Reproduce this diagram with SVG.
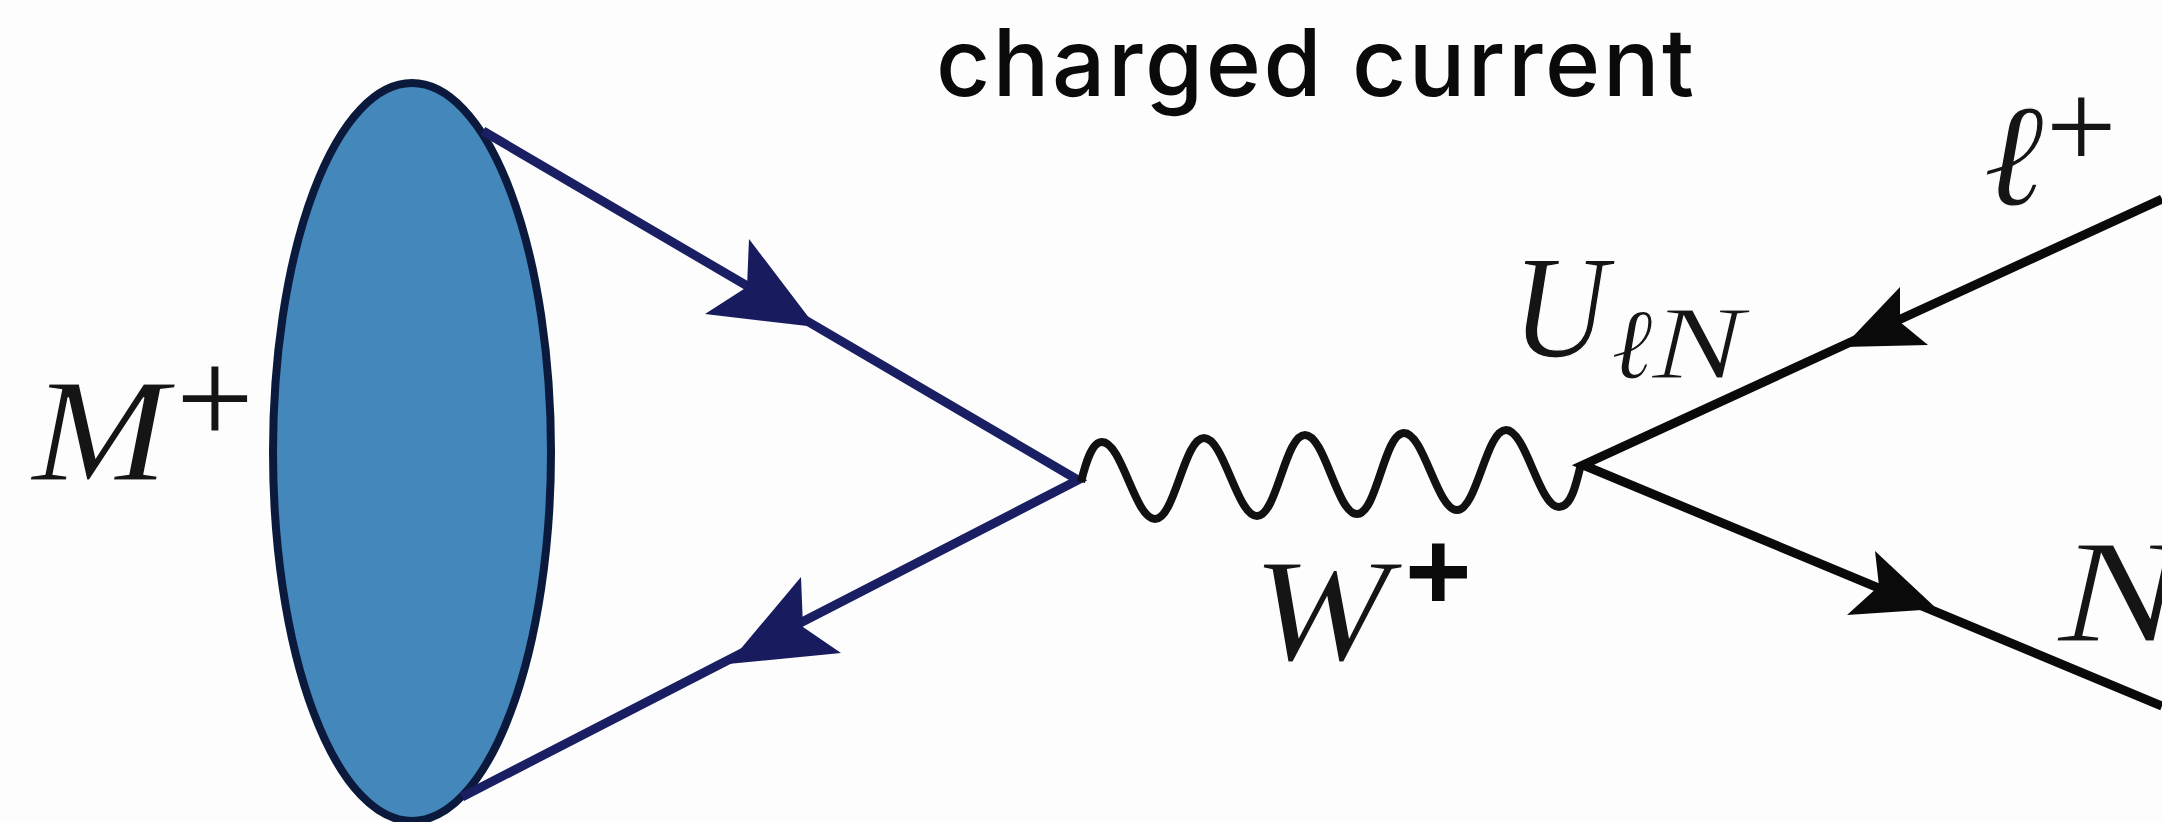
<svg xmlns="http://www.w3.org/2000/svg" width="2162" height="822" viewBox="0 0 2162 822">
<style>
.m{font-family:"Liberation Serif","DejaVu Serif",serif;font-style:italic;fill:#151515;stroke:#fdfdfd;stroke-width:1.2}
.p{font-family:"Liberation Serif","DejaVu Serif",serif;fill:#151515}
.navy{stroke:#1a1f63;stroke-width:9;fill:none}
.blk{stroke:#0a0a0a;stroke-width:9;fill:none}
.an{fill:#181c5e}
.ab{fill:#0a0a0a}
</style>
<rect width="2162" height="822" fill="#fdfdfd"/>
<g id="meson">
<ellipse cx="412" cy="452" rx="139" ry="369" fill="#4487bb" stroke="#0b1a3c" stroke-width="8"/>
</g>
<g id="connectors">
<path class="navy" d="M483 131L1078 480L462 797"/>
<path class="an" d="M816 327L749 239L747 287L705 314Z"/>
<path class="an" d="M728 664L801 577L803 627L841 653Z"/>
<path d="M1081 482C1086 462 1092 442 1102 442C1122 442 1135 519 1155 519C1175 519 1184 438 1204 438C1224 438 1237 516 1257 516C1277 516 1285 435 1305 435C1325 435 1337 514 1357 514C1377 514 1384 433 1404 433C1424 433 1437 510 1457 510C1477 510 1486 430 1506 430C1526 430 1539 507 1559 507C1571 507 1576 485 1581 464" fill="none" stroke="#111" stroke-width="8"/>
<path class="blk" d="M2162 199L1583 465L2162 706"/>
<path class="ab" d="M1843 347L1900 287L1900 322L1928 345Z"/>
<path class="ab" d="M1937 609L1875 551L1879 586L1847 615Z"/>
</g>
<g id="title">
<text x="936" y="96" font-family="Inter,'DejaVu Sans',sans-serif" font-weight="500" font-size="94" fill="#0a0a0a" textLength="758" lengthAdjust="spacing">charged current</text>
</g>
<g id="label-meson">
<text class="m" x="32" y="480" font-size="146" textLength="136" lengthAdjust="spacingAndGlyphs">M</text>
<text class="p" x="176" y="444" font-size="138">+</text>
</g>
<g id="label-w">
<text class="m" x="1252" y="660" font-size="146" textLength="138" lengthAdjust="spacingAndGlyphs">W</text>
<text x="1405" y="610" font-family="'Liberation Sans',sans-serif" font-weight="700" font-size="114" fill="#0a0a0a">+</text>
</g>
<g id="label-u">
<text class="m" x="1512" y="357" font-size="146" textLength="96" lengthAdjust="spacingAndGlyphs">U</text>
<text class="m" x="1611" y="378" font-size="100">ℓ</text>
<text class="m" x="1652" y="378" font-size="104" textLength="92" lengthAdjust="spacingAndGlyphs">N</text>
</g>
<g id="label-lepton">
<text class="m" x="1983" y="205" font-size="146">ℓ</text>
<text class="p" x="2046" y="168" font-size="125">+</text>
</g>
<g id="label-n">
<text class="m" x="2058" y="641" font-size="146" textLength="125" lengthAdjust="spacingAndGlyphs">N</text>
</g>
</svg>
